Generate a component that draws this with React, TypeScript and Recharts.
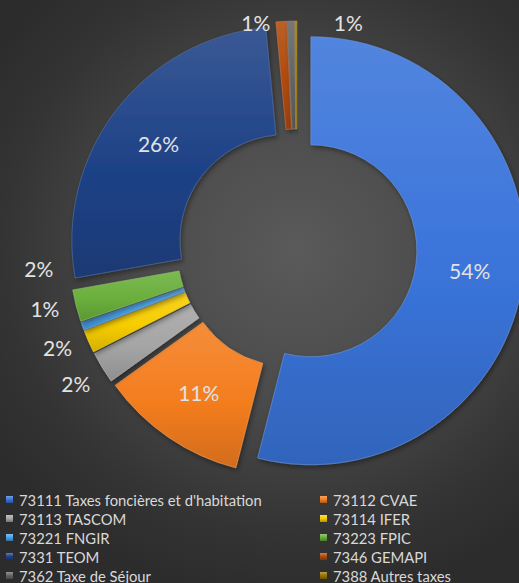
import React from 'react';
import { PieChart, Pie, Cell, Sector, Legend } from 'recharts';

// budget lines (fiscalité) and their share of the total, in %
const categories = [
  "73111 Taxes foncières et d'habitation",
  '73112 CVAE',
  '73113 TASCOM',
  '73114 IFER',
  '73221 FNGIR',
  '73223 FPIC',
  '7331 TEOM',
  '7346 GEMAPI',
  '7362 Taxe de Séjour',
  '7388 Autres taxes',
];
const shares = [54.0, 11.1, 2.4, 1.7, 0.6, 2.4, 26.3, 0.8, 0.55, 0.15];

const palette = [
  '#3a74da', '#f47d1f', '#a5a5a5', '#f7cd00', '#4aa0e6',
  '#6aaf3c', '#1f4287', '#b04a0c', '#646464', '#9a7400',
];

const data = categories.map((name, i) => ({ name, value: shares[i] }));

const CX = 297;
const CY = 249;
const INNER = 106;
const OUTER = 214;
const EXPLODE = 14;
const RAD = Math.PI / 180;

const mix = (hex: string, target: number, amt: number) => {
  const n = parseInt(hex.slice(1), 16);
  const ch = [(n >> 16) & 255, (n >> 8) & 255, n & 255].map((c) =>
    Math.round(c + (target - c) * amt)
  );
  return '#' + ch.map((c) => c.toString(16).padStart(2, '0')).join('');
};

// exploded slice, drawn through the pie's own angles
const renderSlice = (props: any) => {
  const { cx, cy, innerRadius, outerRadius, startAngle, endAngle, midAngle, index } = props;
  const dx = Math.cos(-midAngle * RAD) * EXPLODE;
  const dy = Math.sin(-midAngle * RAD) * EXPLODE;
  return (
    <Sector
      cx={cx + dx}
      cy={cy + dy}
      innerRadius={innerRadius}
      outerRadius={outerRadius}
      startAngle={startAngle}
      endAngle={endAngle}
      fill={`url(#grad${index})`}
      stroke={mix(palette[index], 255, 0.25)}
      strokeOpacity={0.6}
      strokeWidth={1}
      filter="url(#sliceShadow)"
    />
  );
};

// percentage labels: inside for big slices, outside (spread apart) for small ones
const placed: { x: number; y: number }[] = [];
const renderValue = (props: any) => {
  const { cx, cy, midAngle, innerRadius, outerRadius, percent, index } = props;
  if (index === 0) placed.length = 0;
  const pct = Math.round(percent * 100);
  if (pct === 0) return null;
  let x: number;
  let y: number;
  let anchor: 'middle' | 'start' | 'end' = 'middle';
  if (percent >= 0.05) {
    const r = (innerRadius + outerRadius) / 2 + EXPLODE;
    x = cx + Math.cos(-midAngle * RAD) * r;
    y = cy + Math.sin(-midAngle * RAD) * r;
  } else {
    let clamped = false;
    const at = (a: number) => {
      const s = Math.sin(-a * RAD);
      let r = outerRadius + EXPLODE + 31;
      clamped = cy + s * r < 22;
      if (clamped) r = (22 - cy) / s;
      return { x: cx + Math.cos(-a * RAD) * r, y: cy + s * r };
    };
    let a = midAngle;
    let p = at(a);
    while (placed.some((q) => Math.hypot(q.x - p.x, q.y - p.y) < 40)) {
      a -= 0.5;
      p = at(a);
    }
    placed.push(p);
    x = p.x;
    y = p.y;
    if (clamped) {
      // no room above the ring: put the text beside its slice
      anchor = x < cx ? 'end' : 'start';
      x += x < cx ? -11 : 11;
    }
  }
  return (
    <text
      x={x}
      y={y}
      textAnchor={anchor}
      dominantBaseline="central"
      fill="#e2e2e2"
      fontSize={21}
      fontFamily="Lato, 'Open Sans', sans-serif"
    >
      {pct}%
    </text>
  );
};

const LegendGrid = () => (
  <div
    style={{
      display: 'grid',
      gridTemplateColumns: '314px 1fr',
      gridAutoRows: '19px',
      paddingLeft: 6,
      fontFamily: "Lato, 'Open Sans', sans-serif",
      fontSize: 14.8,
      color: '#d9d9d9',
    }}
  >
    {categories.map((name, i) => (
      <div key={name} style={{ display: 'flex', alignItems: 'center', whiteSpace: 'nowrap' }}>
        <span
          style={{
            width: 7,
            height: 7,
            marginRight: 6,
            flexShrink: 0,
            background: `linear-gradient(${mix(palette[i], 255, 0.3)}, ${palette[i]} 50%, ${mix(palette[i], 0, 0.3)})`,
          }}
        />
        {name}
      </div>
    ))}
  </div>
);

export default function App() {
  return (
    <div
      style={{
        position: 'absolute',
        left: 0,
        top: 0,
        width: 519,
        height: 583,
        background:
          'radial-gradient(ellipse 70% 60% at 57% 43%, #5a5a5a 0%, #4a4a4a 45%, #343434 80%, #2c2c2c 100%)',
      }}
    >
      <PieChart width={519} height={583} margin={{ top: 0, right: 0, bottom: 0, left: 0 }}>
        <defs>
          {palette.map((c, i) => (
            <linearGradient key={i} id={`grad${i}`} x1="0" y1="0" x2="0" y2="1">
              <stop offset="0%" stopColor={mix(c, 255, 0.12)} />
              <stop offset="55%" stopColor={c} />
              <stop offset="100%" stopColor={mix(c, 0, 0.14)} />
            </linearGradient>
          ))}
          <filter id="sliceShadow" x="-20%" y="-20%" width="140%" height="140%">
            <feDropShadow dx="1.5" dy="2.5" stdDeviation="2.5" floodColor="#000" floodOpacity="0.4" />
          </filter>
        </defs>
        <Pie
          data={data}
          dataKey="value"
          nameKey="name"
          cx={CX}
          cy={CY}
          innerRadius={INNER}
          outerRadius={OUTER}
          startAngle={90}
          endAngle={-270}
          stroke="none"
          fillOpacity={0}
          label={renderSlice}
          labelLine={false}
          isAnimationActive={false}
        >
          {data.map((d, i) => (
            <Cell key={d.name} fill={palette[i]} />
          ))}
        </Pie>
        <Pie
          data={data}
          dataKey="value"
          nameKey="name"
          cx={CX}
          cy={CY}
          innerRadius={INNER}
          outerRadius={OUTER}
          startAngle={90}
          endAngle={-270}
          stroke="none"
          fill="none"
          legendType="none"
          label={renderValue}
          labelLine={false}
          isAnimationActive={false}
        />
        <Legend
          verticalAlign="bottom"
          content={<LegendGrid />}
          wrapperStyle={{ top: 490, left: 0, bottom: 'auto', width: 519 }}
        />
      </PieChart>
    </div>
  );
}
